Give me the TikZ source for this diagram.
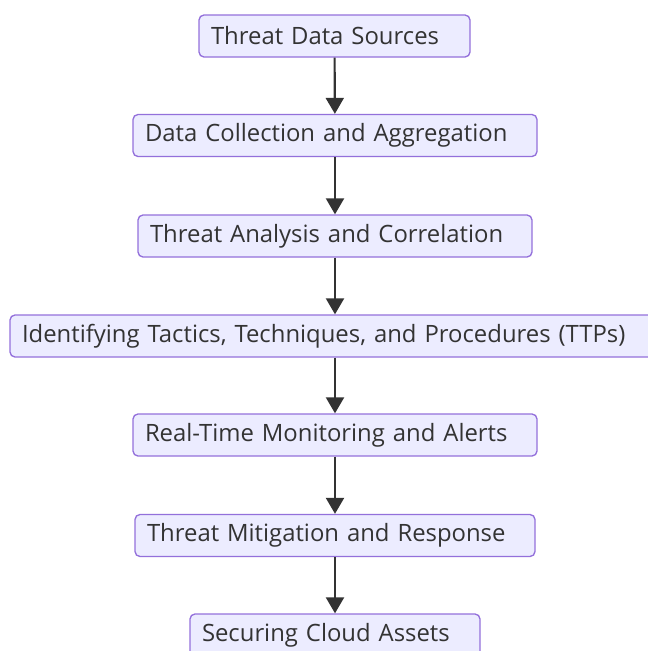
\documentclass[tikz,border=0pt]{standalone}
\usepackage{fontspec}
\setmainfont{Open Sans}
\usetikzlibrary{arrows.meta}
\definecolor{boxfill}{HTML}{ECECFF}
\definecolor{boxline}{HTML}{9370DB}
\definecolor{ink}{HTML}{333333}
\begin{document}
\begin{tikzpicture}[x=0.75pt,y=-0.75pt,
  stepbox/.style={draw=boxline, fill=boxfill, line width=1pt, rounded corners=3.75pt,
    minimum height=31.5pt, inner xsep=9pt, inner ysep=0pt, align=left, text=ink,
    font=\fontsize{17.9}{21}\selectfont},
  flow/.style={draw=ink, line width=1.6pt, -{Triangle[width=13.5pt,length=12pt]}}]
\useasboundingbox (0,0) rectangle (648,651);
\node[stepbox, text width=185.25pt] (a) at (334.5,36) {Threat Data Sources};
\node[stepbox, text width=285pt] (b) at (335,135.5) {Data Collection and Aggregation};
\node[stepbox, text width=277.5pt] (c) at (335,236) {Threat Analysis and Correlation};
\node[stepbox, text width=469.5pt] (d) at (335,336) {Identifying Tactics, Techniques, and Procedures (TTPs)};
\node[stepbox, text width=285pt] (e) at (335,435) {Real-Time Monitoring and Alerts};
\node[stepbox, text width=282pt] (f) at (335,535.5) {Threat Mitigation and Response};
\node[stepbox, text width=199.5pt] (g) at (335,635) {Securing Cloud Assets};
\draw[flow] (a) -- (b);
\draw[flow] (b) -- (c);
\draw[flow] (c) -- (d);
\draw[flow] (d) -- (e);
\draw[flow] (e) -- (f);
\draw[flow] (f) -- (g);
\end{tikzpicture}
\end{document}
